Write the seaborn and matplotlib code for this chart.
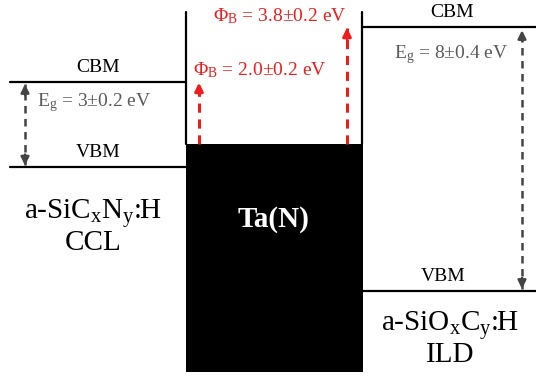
import numpy as np
import pandas as pd
import matplotlib
matplotlib.use("Agg")
import matplotlib.pyplot as plt
import seaborn as sns

# band levels in eV relative to the Ta(N) Fermi level (schematic)
left_levels = {"CBM": 2.0, "VBM": -0.74}
right_levels = {"CBM": 3.77, "VBM": -4.74}
metal_top = 0.0
metal_bottom = -7.35
wall_top = 4.26

eg_labels = ["E$_\\mathrm{g}$ = 3±0.2 eV", "E$_\\mathrm{g}$ = 8±0.4 eV"]
phi_labels = ["Φ$_\\mathrm{B}$ = 2.0±0.2 eV", "Φ$_\\mathrm{B}$ = 3.8±0.2 eV"]
materials = ["a-SiC$_\\mathrm{x}$N$_\\mathrm{y}$:H\nCCL", "Ta(N)", "a-SiO$_\\mathrm{x}$C$_\\mathrm{y}$:H\nILD"]

sns.set_theme(style="white")
plt.rcParams["font.family"] = ["Liberation Serif", "DejaVu Serif"]
plt.rcParams["mathtext.fontset"] = "custom"
plt.rcParams["mathtext.rm"] = "Liberation Serif"
plt.rcParams["mathtext.it"] = "Liberation Serif:italic"
plt.rcParams["text.color"] = "black"

fig = plt.figure(figsize=(5.36, 3.77), dpi=100)
ax = fig.add_axes([0, 0, 1, 1])
ax.set_xlim(0, 536)
ax.set_ylim(-7.516, 4.645)
ax.axis("off")

# level segments
xl = (10, 186)
xr = (362, 536)
rows = []
for name, e in left_levels.items():
    rows += [{"x": xl[0], "E": e, "seg": "L" + name}, {"x": xl[1], "E": e, "seg": "L" + name}]
for name, e in right_levels.items():
    rows += [{"x": xr[0], "E": e, "seg": "R" + name}, {"x": xr[1], "E": e, "seg": "R" + name}]
# metal walls
rows += [{"x": 186, "E": wall_top, "seg": "wl"}, {"x": 186, "E": metal_top, "seg": "wl"}]
rows += [{"x": 362, "E": wall_top, "seg": "wr"}, {"x": 362, "E": metal_top, "seg": "wr"}]
df = pd.DataFrame(rows)
sns.lineplot(data=df, x="x", y="E", units="seg", estimator=None, color="black",
             lw=1.6, sort=False, ax=ax, legend=False)

# metal block
ax.fill_between([186, 363], metal_bottom, metal_top, color="black", lw=0)
ax.text(274, -2.45, materials[1], color="white", fontsize=21, fontweight="bold",
        ha="center", va="center")

# level labels
fs = 14
ax.text(98, left_levels["CBM"] + 0.2, "CBM", fontsize=fs, ha="center", va="bottom")
ax.text(98, left_levels["VBM"] + 0.2, "VBM", fontsize=fs, ha="center", va="bottom")
ax.text(452, right_levels["CBM"] + 0.2, "CBM", fontsize=fs, ha="center", va="bottom")
ax.text(443, right_levels["VBM"] + 0.2, "VBM", fontsize=fs, ha="center", va="bottom")

# band gap arrows
gray = "#444444"
def dashed_arrow(x, y0, y1, color, lw, both=False, ms=12):
    ax.plot([x, x], [y0, y1], color=color, lw=lw, ls=(0, (3, 2.2)))
    ax.annotate("", xy=(x, y1), xytext=(x, y1 - np.sign(y1 - y0) * 0.35),
                arrowprops=dict(arrowstyle="-|>", color=color, lw=lw, mutation_scale=ms,
                                shrinkA=0, shrinkB=0))
    if both:
        ax.annotate("", xy=(x, y0), xytext=(x, y0 + np.sign(y1 - y0) * 0.35),
                    arrowprops=dict(arrowstyle="-|>", color=color, lw=lw, mutation_scale=ms,
                                    shrinkA=0, shrinkB=0))

dashed_arrow(25, left_levels["VBM"] + 0.05, left_levels["CBM"] - 0.07, gray, 1.8, both=True)
dashed_arrow(522, right_levels["VBM"] + 0.07, right_levels["CBM"] - 0.1, gray, 1.8, both=True)
ax.text(37, 1.35, eg_labels[0], fontsize=fs, color="#5a5a5a", ha="left", va="center")
ax.text(451, 2.87, eg_labels[1], fontsize=fs, color="#5a5a5a", ha="center", va="center")

# barrier arrows
red = "#f01c1c"
dashed_arrow(199, metal_top, left_levels["CBM"] - 0.02, red, 2.2)
dashed_arrow(347, metal_top, right_levels["CBM"] - 0.02, red, 2.2)
ax.text(193, 2.39, phi_labels[0], fontsize=fs, color=red, ha="left", va="center")
ax.text(280, 4.12, phi_labels[1], fontsize=fs, color=red, ha="center", va="center")

# material names
ax.text(93, -2.66, materials[0], fontsize=21, ha="center", va="center", linespacing=1.0)
ax.text(450, -6.27, materials[2], fontsize=21, ha="center", va="center", linespacing=1.0)

fig.savefig("out.png", dpi=100)
